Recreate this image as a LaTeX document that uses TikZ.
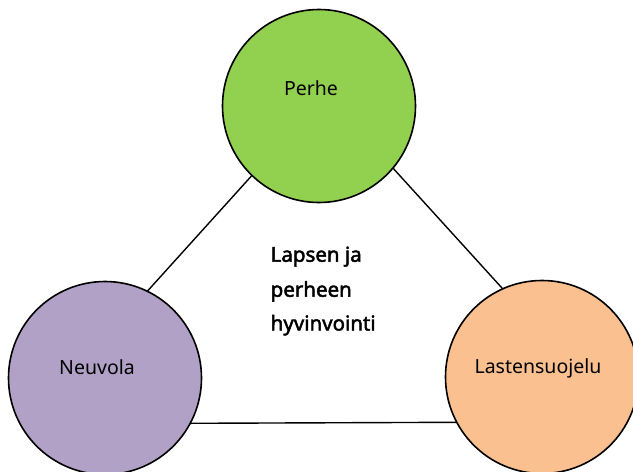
\documentclass[tikz,border=0pt]{standalone}
\usepackage{fontspec}
\setmainfont{Noto Sans}
\newfontfamily\goalfont{Noto Sans}[FakeBold=2.2]
\definecolor{perhegreen}{RGB}{146,208,80}
\definecolor{neuvolapurple}{RGB}{178,161,199}
\definecolor{suojeluorange}{RGB}{250,192,143}
\begin{document}
\begin{tikzpicture}[x=1pt,y=-1pt,
  hub/.style={circle,draw=black,line width=1.6pt,inner sep=0pt,outer sep=0pt,minimum size=193pt},
  label/.style={font=\fontsize{19.5}{23}\selectfont,inner sep=0pt,anchor=base},
  centre/.style={font=\goalfont\fontsize{20.5}{24}\selectfont,inner sep=0pt,anchor=base west},
  link/.style={line width=1.4pt}]
  \useasboundingbox (0,0) rectangle (633,472);
  % the three partners
  \node[hub,fill=perhegreen] (perhe) at (319,106) {};
  \node[hub,fill=neuvolapurple] (neuvola) at (105,378) {};
  \node[hub,fill=suojeluorange] (suojelu) at (542,377) {};
  % their names
  \node[label] (tperhe) at (311,95.7) {Perhe};
  \node[label] (tneuvola) at (97,374) {Neuvola};
  \node[label] (tsuojelu) at (538,373.5) {Lastensuojelu};
  % the shared goal in the middle
  \node[centre] (goal1) at (270.5,261.7) {Lapsen ja};
  \node[centre] (goal2) at (270.5,296.7) {perheen};
  \node[centre] (goal3) at (270.5,330.5) {hyvinvointi};
  % connections between the partners
  \draw[link] (perhe.226.4) -- (neuvola.64.7);
  \draw[link] (perhe.320) -- (suojelu.114.4);
  \draw[link] (neuvola.332.7) -- (suojelu.208.2);
\end{tikzpicture}
\end{document}
